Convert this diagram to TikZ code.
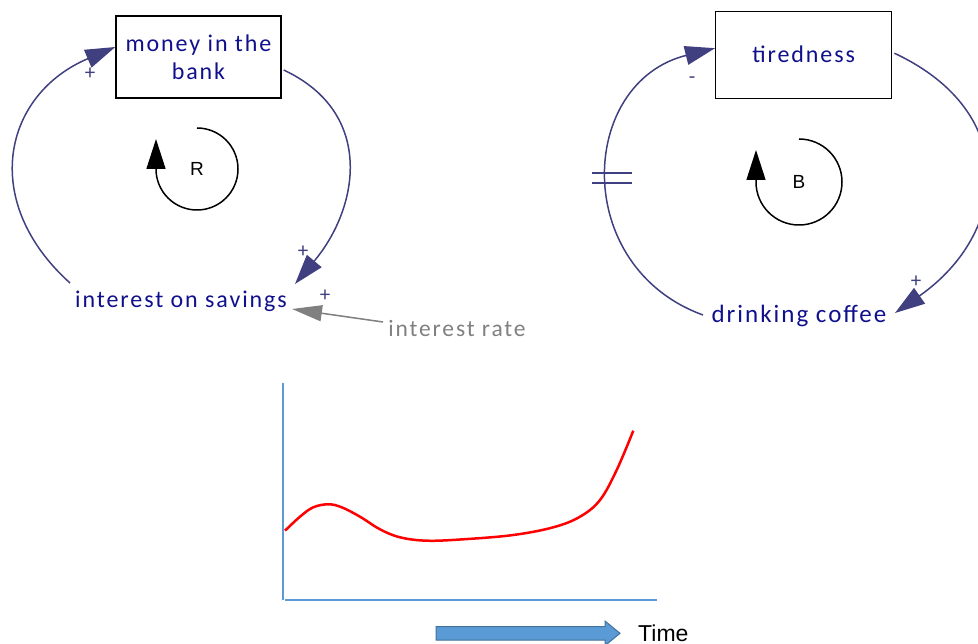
\documentclass[tikz,border=0pt]{standalone}
\usepackage{fontspec}
\setmainfont{Carlito}
\newfontfamily\cldfont[LetterSpace=8]{Carlito}
\newfontfamily\arialfont{Liberation Sans}
\usepackage{tikz}
\usetikzlibrary{arrows.meta,positioning}
\definecolor{cldnavy}{RGB}{64,64,128}
\definecolor{cldtext}{RGB}{16,16,140}
\definecolor{axisblue}{RGB}{91,155,213}
\definecolor{arrowedge}{RGB}{65,113,156}
\definecolor{auxgray}{RGB}{128,128,128}
\tikzset{
  stock/.style={rectangle,draw=black,line width=1.3pt,minimum width=165pt,minimum height=82pt,
                align=center,text=cldtext,font=\cldfont\fontsize{24}{28}\selectfont},
  var/.style={inner sep=0pt,text=cldtext,font=\cldfont\fontsize{24}{28}\selectfont},
  aux/.style={inner sep=0pt,text=auxgray,font=\cldfont\fontsize{23.5}{26}\selectfont},
  pol/.style={inner sep=0pt,text=cldnavy,font=\cldfont\fontsize{21}{23}\selectfont},
  link/.style={-{Triangle[length=30pt,width=19pt]},draw=cldnavy,line width=1.5pt},
  infl/.style={-{Triangle[length=30pt,width=16pt]},draw=auxgray,line width=1.5pt},
  delay/.style={draw=cldnavy,line width=1.5pt},
  loopmark/.style={-{Triangle[length=30pt,width=19pt]},draw=black,line width=1.5pt},
  looplbl/.style={inner sep=0pt,font=\arialfont\fontsize{19}{22}\selectfont},
  axis/.style={draw=axisblue,line width=1.2pt},
  trend/.style={draw=red,line width=2.5pt},
  timearrow/.style={fill=axisblue,draw=arrowedge,line width=1pt},
  timelbl/.style={inner sep=0pt,text depth=0pt,font=\arialfont\fontsize{23}{26}\selectfont},
}
\begin{document}
\begin{tikzpicture}[x=1pt,y=1pt]
  \useasboundingbox (0,0) rectangle (978,-644);
  % reinforcing loop
  \node[stock] (money) at (198.5,-57) {money in the\\bank};
  \node[var] (savings) at (181,-301) {interest on savings};
  \node[aux] (rate) at (457,-329) {interest rate};
  \node[looplbl] (rl) at (197,-169) {R};
  \draw[link] ([shift={(-111pt,18pt)}]savings.center) to[out=138,in=203,looseness=1.3] ([yshift=10pt]money.west);
  \draw[link] ([xshift=2pt,yshift=-13pt]money.east) to[out=-25,in=50,looseness=1.2] ([shift={(114pt,17pt)}]savings.center);
  \draw[infl] ([shift={(-74pt,7pt)}]rate.center) -- ([shift={(111pt,-8pt)}]savings.center);
  \node[pol] (p1) at (90,-74) {+};
  \node[pol] (p2) at (303,-252) {+};
  \node[pol] (p3) at (325,-296) {+};
  \draw[loopmark] ([yshift=41pt]rl.center) arc[start angle=90,end angle=-180,radius=41pt] -- ++(0,30pt);
  % balancing loop
  \node[stock,minimum width=176pt,minimum height=87pt] (tired) at (803.7,-54.7) {tiredness};
  \node[var,font=\cldfont\fontsize{25}{28}\selectfont] (coffee) at (799,-316) {drinking coffee};
  \node[looplbl] (bl) at (799,-182) {B};
  \draw[link] ([shift={(-96pt,1pt)}]coffee.center) to[out=160,in=194,looseness=1.35] ([yshift=6.5pt]tired.west);
  \draw[link] ([xshift=2pt,yshift=1.5pt]tired.east) to[out=-25,in=35,looseness=1.37] ([shift={(96pt,3pt)}]coffee.center);
  \node[pol] (m1) at (692,-80) {-};
  \node[pol] (p4) at (916,-282) {+};
  \draw[delay] (592,-173) -- (632,-173) (592,-183) -- (632,-183);
  \draw[loopmark] ([yshift=43pt]bl.center) arc[start angle=90,end angle=-180,radius=43pt] -- ++(0,32pt);
  % behaviour over time
  \draw[axis] (283,-383) -- (283,-600);
  \draw[axis] (285,-600) -- (657,-600);
  \draw[trend] plot[smooth,tension=0.6] coordinates {(285,-530.7) (300,-516.7) (313.3,-507.3) (328.3,-504.3)
    (341.7,-507.3) (360,-516.7) (380,-529.3) (400,-537.3) (426.7,-540.7) (463.3,-539.3) (513.3,-535)
    (553.3,-527.3) (580,-516.7) (600,-500) (616.7,-470) (633.3,-430.7)};
  \draw[timearrow] (436,-626.7) -- (605,-626.7) -- (605,-621) -- (620,-633.3) -- (605,-645.6) -- (605,-640) -- (436,-640) -- cycle;
  \coordinate (tip) at (620,-633.3);
  \node[timelbl,right=18pt of tip] (time) {Time};
\end{tikzpicture}
\end{document}
